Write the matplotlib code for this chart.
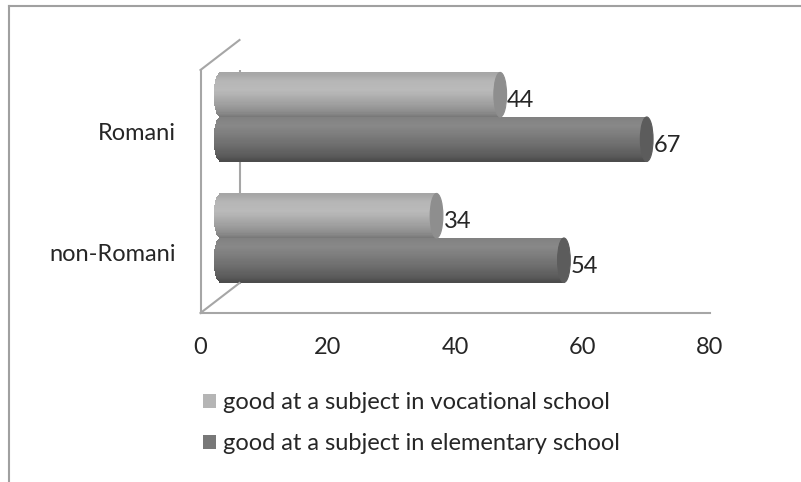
import matplotlib.pyplot as plt
import matplotlib.transforms as mtransforms
from matplotlib.lines import Line2D
from matplotlib.patches import Ellipse, Patch
import numpy as np

plt.rcParams["font.family"] = ["Lato", "DejaVu Sans"]

categories = ["non-Romani", "Romani"]
vocational = [34, 44]
elementary = [54, 67]
series_labels = ["good at a subject in vocational school",
                 "good at a subject in elementary school"]
x_ticks = [0, 20, 40, 60, 80]

# cylinder shading, top -> bottom (grey levels 0-255)
shade_pos = [0.0, 0.2, 0.4, 0.65, 0.88, 1.0]
light_shade = [165, 182, 186, 165, 142, 118]
dark_shade = [128, 136, 124, 108, 90, 74]
light_cap = "#8e8e8e"
dark_cap = "#5c5c5c"
legend_colors = ["#b5b5b5", "#787878"]
fs = 17

W, H = 801, 482
fig = plt.figure(figsize=(W / 100, H / 100), dpi=100)

# front plane of the 3D box
ax = fig.add_axes([200.5 / W, (H - 313) / H, 509.5 / W, (313 - 70) / H])
ax.set_xlim(0, 80)
ax.set_ylim(-0.496, 1.512)
ax.set_facecolor("none")
for s in ["top", "right"]:
    ax.spines[s].set_visible(False)
for s in ["left", "bottom"]:
    ax.spines[s].set_color("#a6a6a6")
    ax.spines[s].set_linewidth(1.5)
ax.set_xticks(x_ticks)
ax.set_yticks(range(len(categories)))
ax.set_yticklabels(categories)
ax.tick_params(axis="both", length=0, labelsize=fs, colors="#262626")
ax.tick_params(axis="x", pad=17)
ax.tick_params(axis="y", pad=18)


def depth(frac):
    # shift towards the back of the box
    return mtransforms.ScaledTranslation(39 * frac / 100, 30 * frac / 100,
                                         fig.dpi_scale_trans)


# back edge of the side wall and its connectors
back = ax.transAxes + depth(1)
wall = dict(color="#a6a6a6", lw=1.5, zorder=1)
ax.add_line(Line2D([0, 0], [0, 1], transform=back, **wall))
for yy in [0, 1]:
    p0 = ax.transAxes.transform((0, yy))
    p1 = back.transform((0, yy))
    fig.add_artist(Line2D([p0[0] / W, p1[0] / W], [p0[1] / H, p1[1] / H],
                          transform=fig.transFigure, **wall))

bar_tr = ax.transData + depth(0.5)
bar_h = 0.368
cap_w = 2.0
n_strips = 40


def cylinder(yc, value, shade, cap_color, label):
    ts = (np.arange(n_strips) + 0.5) / n_strips
    dh = bar_h / n_strips
    for t in ts:
        g = np.interp(t, shade_pos, shade) / 255
        y = yc + bar_h / 2 - t * bar_h
        u = (y - yc) / (bar_h / 2)
        x0 = -cap_w / 2 * np.sqrt(max(0.0, 1 - u * u))
        ax.barh(y, value - x0, left=x0, height=dh * 1.08, color=(g, g, g),
                linewidth=0, transform=bar_tr, zorder=3)
    ax.add_patch(Ellipse((value, yc), cap_w, bar_h, facecolor=cap_color,
                         edgecolor=cap_color, lw=0.8, transform=bar_tr,
                         zorder=4))
    ax.annotate(label, xy=(value, yc), xycoords=bar_tr, xytext=(7, -6),
                textcoords="offset pixels", ha="left", va="center",
                fontsize=fs, color="#262626", zorder=5)


for i in range(len(categories)):
    cylinder(i + bar_h / 2, vocational[i], light_shade, light_cap,
             str(vocational[i]))
    cylinder(i - bar_h / 2, elementary[i], dark_shade, dark_cap,
             str(elementary[i]))

# chart area border (left and top edges visible)
frame = dict(color="#a0a0a0", lw=1.5)
fig.add_artist(Line2D([9 / W, 9 / W], [0, (H - 6) / H],
                      transform=fig.transFigure, **frame))
fig.add_artist(Line2D([9 / W, 1], [(H - 6) / H, (H - 6) / H],
                      transform=fig.transFigure, **frame))

handles = [Patch(facecolor=c, edgecolor="none") for c in legend_colors]
fig.legend(handles, series_labels, loc="upper left",
           bbox_to_anchor=(203 / W, (H - 392) / H), frameon=False,
           fontsize=fs, handlelength=0.55, handleheight=0.55,
           handletextpad=0.3, labelspacing=0.85, borderpad=0,
           borderaxespad=0, labelcolor="#262626")

fig.savefig("out.png", dpi=100)
